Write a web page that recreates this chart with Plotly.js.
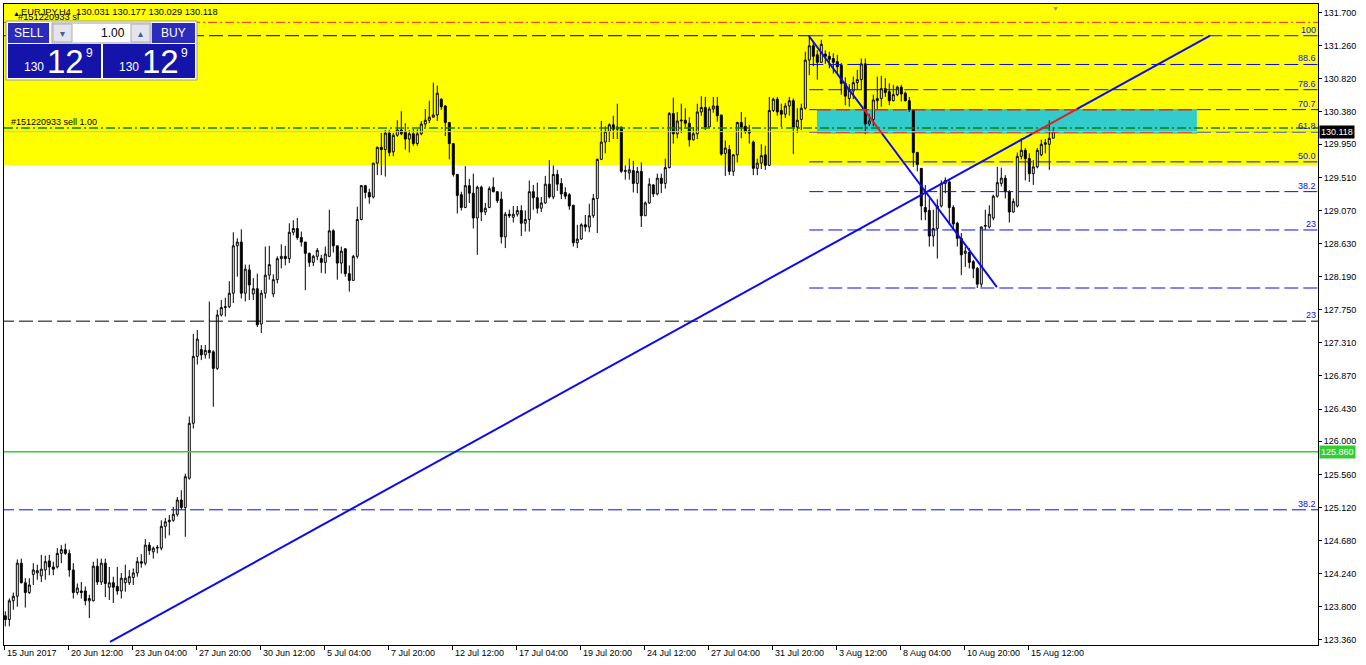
<!DOCTYPE html>
<html><head><meta charset="utf-8">
<script src="https://cdn.plot.ly/plotly-3.0.1.min.js"></script>
<style>html,body{margin:0;padding:0;background:#fff;overflow:hidden}#chart{width:1366px;height:665px}</style>
</head><body><div id="chart"></div>
<script>
// ---------------- DATA ----------------
const symbolTitle = "EURJPY,H4";
const lastBarOHLC = ["130.031", "130.177", "130.029", "130.118"];
const orderLabel = "#151220933 sell 1.00";
const slLabel = "#151220933 sl";

const openP = [123.68,123.63,123.88,123.94,124.38,124.12,123.99,124.23,124.25,124.21,124.29,124.41,124.33,124.33,124.51,124.56,124.51,124.29,123.99,124.01,
124.01,123.88,123.88,124.34,124.13,124.38,124.06,124.12,124.07,124.01,124.12,124.12,124.19,124.25,124.40,124.38,124.62,124.53,124.58,124.58,
124.87,124.93,124.95,125.03,125.22,125.12,125.51,126.24,127.13,127.22,127.15,127.21,127.19,126.97,127.68,127.78,127.79,127.97,128.60,128.65,
127.97,128.28,127.96,128.03,127.56,127.97,128.21,127.96,128.15,128.43,128.46,128.43,128.78,128.83,128.71,128.65,128.50,128.38,128.46,128.43,
128.38,128.46,128.80,128.60,128.37,128.56,128.23,128.14,128.46,128.95,129.40,129.31,129.25,129.70,129.91,129.88,130.10,129.85,130.07,130.14,
130.12,130.02,130.09,129.96,130.09,130.22,130.27,130.31,130.34,130.55,130.46,130.24,129.96,129.55,129.28,129.11,129.40,129.30,128.97,129.38,
129.05,129.11,129.38,129.32,129.22,128.72,129.02,128.98,129.02,129.07,128.90,128.95,129.32,129.24,129.10,129.17,129.42,129.25,129.55,129.43,
129.31,129.28,129.14,128.64,128.69,128.88,128.85,129.00,129.23,129.75,129.98,130.12,130.21,130.15,130.18,129.59,129.57,129.60,129.43,129.59,
129.00,129.17,129.41,129.29,129.50,129.43,129.64,130.36,130.09,130.26,130.27,130.23,130.01,130.09,130.38,130.44,130.18,130.42,130.46,130.34,
129.83,129.88,129.59,129.81,130.24,130.19,130.13,129.98,129.63,129.70,129.81,129.67,130.40,130.55,130.40,130.35,130.46,130.53,130.18,130.28,
130.43,131.07,131.26,131.14,131.04,131.15,131.12,131.09,131.05,131.00,130.76,130.56,130.66,130.77,130.81,131.02,130.22,130.28,130.53,130.56,
130.69,130.65,130.53,130.61,130.71,130.63,130.53,130.41,129.84,129.63,129.11,129.07,128.73,128.83,129.13,129.43,129.45,129.11,128.90,128.70,
128.50,128.51,128.39,128.30,128.09,128.86,128.85,128.97,129.26,129.43,129.50,129.32,129.05,129.13,129.79,129.87,129.76,129.56,129.65,129.81,
129.95,129.95,130.031];
const highP = [123.74,123.91,123.99,124.43,124.44,124.18,124.18,124.38,124.36,124.49,124.48,124.49,124.40,124.58,124.62,124.64,124.56,124.38,124.11,124.13,
124.07,123.96,124.40,124.44,124.44,124.44,124.33,124.20,124.33,124.25,124.36,124.29,124.31,124.46,124.50,124.70,124.66,124.60,124.62,124.95,
124.98,125.02,125.13,125.26,125.35,125.57,126.33,127.43,127.48,127.28,127.28,127.86,127.21,127.75,127.88,127.91,128.13,128.78,128.70,128.82,
128.35,128.35,128.17,128.23,128.01,128.59,128.60,128.22,128.46,128.62,128.60,128.90,128.94,128.97,128.79,128.65,128.51,128.48,128.57,128.48,
128.59,129.08,128.82,128.60,128.59,128.57,128.34,128.48,129.12,129.41,129.41,129.36,129.70,129.92,130.10,130.14,130.14,130.10,130.27,130.39,
130.23,130.14,130.15,130.15,130.26,130.42,130.53,130.77,130.73,130.56,130.47,130.24,129.96,129.55,129.32,129.66,129.49,129.56,129.40,129.40,
129.17,129.39,129.51,129.32,129.32,129.05,129.08,129.13,129.13,129.14,129.07,129.47,129.41,129.44,129.25,129.53,129.74,129.67,129.61,129.50,
129.38,129.30,129.14,128.88,128.90,129.01,129.16,129.29,129.76,130.26,130.19,130.23,130.33,130.49,130.18,129.67,129.76,129.73,129.65,129.71,
129.19,129.50,129.42,129.56,129.56,129.76,130.38,130.57,130.38,130.49,130.43,130.31,130.18,130.49,130.59,130.58,130.45,130.58,130.58,130.34,
130.00,129.94,129.82,130.25,130.38,130.31,130.21,130.00,129.76,129.95,129.93,130.58,130.57,130.58,130.49,130.50,130.58,130.56,130.43,130.49,
131.18,131.394,131.32,131.20,131.34,131.20,131.18,131.16,131.14,131.03,130.84,130.75,130.85,130.94,131.09,131.09,130.35,130.61,130.85,130.86,
130.83,130.76,130.74,130.73,130.74,130.65,130.58,130.42,129.85,129.63,129.41,129.23,129.08,129.22,129.47,129.51,129.47,129.14,128.92,128.77,
128.59,128.57,128.41,128.32,128.86,129.08,129.14,129.28,129.65,129.64,129.54,129.34,129.23,129.84,130.03,129.90,129.83,129.74,129.90,130.01,
130.02,130.27,130.177];
const lowP = [123.54,123.54,123.76,123.80,124.11,123.79,123.97,124.09,124.16,124.13,124.16,124.22,124.22,124.31,124.38,124.49,124.20,123.91,123.96,123.91,
123.82,123.65,123.87,124.09,124.09,123.93,123.89,123.85,123.96,123.91,124.00,124.09,124.09,124.20,124.32,124.35,124.49,124.44,124.51,124.55,
124.71,124.75,124.93,125.00,125.09,124.73,125.49,126.17,127.02,127.08,127.10,127.10,126.46,126.95,127.66,127.66,127.77,127.84,128.19,127.90,
127.86,127.88,127.88,127.52,127.44,127.90,128.15,127.92,128.10,128.30,128.34,128.37,128.74,128.68,128.59,128.01,128.32,128.33,128.41,128.24,
128.23,128.45,128.51,128.15,128.23,128.19,127.99,128.14,128.43,128.94,129.23,129.16,129.23,129.54,129.54,129.52,129.79,129.79,130.05,130.07,
129.88,129.84,129.93,129.93,130.07,130.18,130.23,130.31,130.26,130.41,130.06,129.75,129.52,129.03,129.07,129.10,129.17,128.83,128.48,128.93,
129.01,129.10,129.31,129.17,128.63,128.57,128.97,128.91,128.99,128.73,128.79,128.79,129.08,129.03,129.05,129.16,129.23,129.22,129.33,129.22,
129.22,129.08,128.59,128.57,128.68,128.79,128.78,128.97,128.77,129.74,129.83,129.98,130.02,130.02,129.57,129.48,129.48,129.31,129.30,128.85,
129.00,129.16,129.25,129.27,129.30,129.36,129.63,129.96,130.03,130.10,130.18,129.92,130.00,130.02,130.33,130.14,130.18,130.37,130.25,129.80,
129.53,129.54,129.53,129.71,130.03,130.09,129.96,129.54,129.54,129.62,129.61,129.66,130.38,130.33,130.18,130.30,130.33,129.82,130.10,130.14,
130.41,130.87,130.99,130.81,131.03,131.02,130.96,130.89,130.90,130.61,130.47,130.45,130.55,130.67,130.67,130.09,130.19,130.19,130.41,130.45,
130.58,130.47,130.52,130.59,130.52,130.52,130.38,129.65,129.59,128.94,128.94,128.59,128.59,128.43,129.11,129.30,128.88,128.81,128.59,128.21,
128.32,128.30,128.17,128.039,128.05,128.81,128.83,128.94,129.24,129.39,129.23,128.91,129.04,129.11,129.75,129.47,129.45,129.41,129.63,129.79,
129.83,129.61,130.029];
const closeP = [123.63,123.88,123.94,124.38,124.12,123.99,124.09,124.29,124.28,124.30,124.40,124.33,124.30,124.51,124.56,124.51,124.29,123.99,124.05,123.99,
123.88,123.91,124.34,124.13,124.38,124.11,124.12,124.06,124.01,124.18,124.18,124.20,124.25,124.40,124.38,124.62,124.55,124.58,124.59,124.87,
124.93,124.95,125.03,125.22,125.12,125.53,126.24,127.13,127.36,127.15,127.21,127.18,126.97,127.68,127.78,127.79,127.97,128.60,128.65,127.97,
128.29,128.08,128.03,127.55,127.97,128.21,128.35,128.15,128.43,128.46,128.43,128.78,128.83,128.71,128.65,128.50,128.38,128.46,128.54,128.38,
128.49,128.80,128.60,128.37,128.53,128.23,128.14,128.46,128.95,129.40,129.31,129.25,129.70,129.91,129.88,130.10,129.84,130.07,130.14,130.09,
130.02,130.09,129.96,130.09,130.22,130.27,130.31,130.34,130.63,130.45,130.24,129.96,129.55,129.27,129.11,129.40,129.30,128.97,129.38,129.05,
129.10,129.36,129.32,129.20,128.72,129.02,129.00,129.02,129.07,128.90,128.95,129.32,129.24,129.10,129.17,129.42,129.25,129.55,129.42,129.29,
129.26,129.13,128.64,128.69,128.88,128.85,129.00,129.23,129.75,129.98,130.12,130.21,130.15,130.18,129.59,129.60,129.61,129.43,129.59,129.00,
129.17,129.42,129.29,129.50,129.43,129.64,130.36,130.09,130.26,130.27,130.23,130.01,130.09,130.38,130.44,130.18,130.42,130.46,130.33,129.82,
129.90,129.59,129.81,130.24,130.18,130.12,130.10,129.63,129.70,129.80,129.67,130.40,130.55,130.38,130.35,130.46,130.53,130.18,130.27,130.43,
131.07,131.26,131.12,131.04,131.28,131.12,131.08,131.04,130.98,130.76,130.59,130.67,130.77,130.81,131.02,130.22,130.26,130.54,130.56,130.69,
130.64,130.53,130.61,130.71,130.62,130.53,130.41,129.84,129.68,129.13,129.05,128.73,128.83,129.13,129.43,129.47,129.11,128.89,128.70,128.48,
128.53,128.38,128.30,128.09,128.85,128.87,129.02,129.26,129.44,129.50,129.32,129.05,129.19,129.79,129.87,129.76,129.56,129.65,129.87,129.95,
129.97,130.03,130.118];

const xTickBars = [0,16,32,48,64,80,96,112,128,144,160,176,192,208,224,240,256];
const xTickLabels = ["15 Jun 2017","20 Jun 12:00","23 Jun 04:00","27 Jun 20:00","30 Jun 12:00","5 Jul 04:00","7 Jul 20:00","12 Jul 12:00","17 Jul 04:00","19 Jul 20:00","24 Jul 12:00","27 Jul 04:00","31 Jul 20:00","3 Aug 12:00","8 Aug 04:00","10 Aug 20:00","15 Aug 12:00"];
const yTickVals = [131.700,131.260,130.820,130.380,129.950,129.510,129.070,128.630,128.190,127.750,127.310,126.870,126.430,126.000,125.560,125.120,124.680,124.240,123.800,123.360];

// Fibonacci retracement (Aug swing): 100 = swing high, 0 = swing low
const fibHighPrice = 131.394, fibLowPrice = 128.039, fibStartBar = 201;
const fibLevels = [100, 88.6, 78.6, 70.7, 61.8, 50.0, 38.2, 23, 0];
const fibLabels = ["100", "88.6", "78.6", "70.7", "61.8", "50.0", "38.2", "23", ""];
// Long-term Fibonacci (0 at the high)
const fib2ZeroPrice = 131.394, fib2FullPrice = 114.89;
const fib2Levels = [0, 23, 38.2];
const fib2Labels = ["", "23", "38.2"];

const bidPrice = 130.118, slPrice = 131.572, orderPrice = 130.167, supportPrice = 125.860;
const yellowZone = [129.675, 132.5];
const cyanZone = {bar0: 202.9, bar1: 297.9, low: 130.09, high: 130.42};
const trendUp = [[26.18, 123.332], [301.2, 131.394]];
const trendDown = [[200.9, 131.39], [247.9, 128.052]];

// ---------------- LAYOUT HELPERS ----------------
const W = 1366, H = 665, L = 4, T = 4, R = 48, B = 20;
const PW = W - L - R, PH = H - T - B;
const px = x => (x - L) / PW;
const py = y => (H - B - y) / PH;
const FONT = "Liberation Sans, Arial, sans-serif";
const BLUE = "#0b0bf0";
const xRange = [-0.325, 328.175];

const n = openP.length;
const xs = Array.from({length: n}, (_, i) => i);

const shapes = [];
const annotations = [];

// background zones
shapes.push({type: 'rect', xref: 'paper', x0: 0, x1: 1, yref: 'y', y0: yellowZone[0], y1: yellowZone[1],
  fillcolor: '#ffff00', line: {width: 0}, layer: 'below'});
shapes.push({type: 'rect', xref: 'x', x0: cyanZone.bar0, x1: cyanZone.bar1, yref: 'y', y0: cyanZone.low, y1: cyanZone.high,
  fillcolor: '#33cccc', line: {width: 0}, layer: 'below'});

function inCyan(p) { return p >= cyanZone.low - 0.01 && p <= cyanZone.high + 0.01; }

function hline(p, x0, x1, color, dash, width) {
  shapes.push({type: 'line', xref: 'x', yref: 'y', x0: x0, x1: x1, y0: p, y1: p,
    line: {color: color, width: width || 1, dash: dash}});
}
// horizontal line that turns red inside the cyan box
function fibLine(p, x0, x1, color) {
  const dash = '14px,5px';
  if (inCyan(p) && x1 > cyanZone.bar0 && x0 < cyanZone.bar1) {
    const a = Math.max(x0, cyanZone.bar0), b = Math.min(x1, cyanZone.bar1);
    if (a > x0) hline(p, x0, a, color, dash);
    hline(p, a, b, '#e02020', dash, 1.5);
    if (b < x1) hline(p, b, x1, color, dash);
  } else hline(p, x0, x1, color, dash);
}

// trend line split at the cyan box
function trendLine(seg) {
  const [[x0, y0], [x1, y1]] = seg;
  const f = x => y0 + (y1 - y0) * (x - x0) / (x1 - x0);
  const g = y => x0 + (x1 - x0) * (y - y0) / (y1 - y0);
  let a = Math.max(x0, cyanZone.bar0), b = Math.min(x1, cyanZone.bar1);
  const xa = g(cyanZone.low), xb = g(cyanZone.high);
  a = Math.max(a, Math.min(xa, xb)); b = Math.min(b, Math.max(xa, xb));
  const seg2 = (u, v, c) => shapes.push({type: 'line', xref: 'x', yref: 'y', x0: u, y0: f(u), x1: v, y1: f(v), line: {color: c, width: 2}});
  if (b > a) {
    seg2(x0, a, BLUE); seg2(a, b, '#e02020'); seg2(b, x1, BLUE);
  } else seg2(x0, x1, BLUE);
}

// long-term fib (full width)
fib2Levels.forEach((lv, k) => {
  const p = fib2ZeroPrice - (fib2ZeroPrice - fib2FullPrice) * lv / 100;
  const col = lv === 38.2 ? BLUE : '#000000';
  fibLine(p, xRange[0] - 1, lv === 0 ? fibStartBar : xRange[1] + 1, col);
  if (fib2Labels[k]) annotations.push({xref: 'paper', x: 1, xanchor: 'right', xshift: -1, yref: 'y', y: p, yanchor: 'bottom',
    text: fib2Labels[k], showarrow: false, font: {family: FONT, size: 9, color: BLUE}, borderpad: 0});
});
// Aug fib
fibLevels.forEach((lv, k) => {
  const p = fibLowPrice + (fibHighPrice - fibLowPrice) * lv / 100;
  fibLine(p, fibStartBar, xRange[1] + 1, BLUE);
  if (fibLabels[k]) annotations.push({xref: 'paper', x: 1, xanchor: 'right', xshift: -1, yref: 'y', y: p, yanchor: 'bottom',
    text: fibLabels[k], showarrow: false, font: {family: FONT, size: 9, color: BLUE}, borderpad: 0});
});

// order / stop / bid / support lines
shapes.push({type: 'line', xref: 'paper', x0: 0, x1: 1, yref: 'y', y0: slPrice, y1: slPrice, line: {color: '#ff2020', width: 1, dash: '9px,3px,2px,3px'}});
shapes.push({type: 'line', xref: 'paper', x0: 0, x1: 1, yref: 'y', y0: orderPrice, y1: orderPrice, line: {color: '#008800', width: 1.5, dash: '9px,3px,2px,3px'}});
shapes.push({type: 'line', xref: 'paper', x0: 0, x1: 1, yref: 'y', y0: bidPrice, y1: bidPrice, line: {color: '#c0c0c0', width: 1}});
shapes.push({type: 'line', xref: 'paper', x0: 0, x1: 1, yref: 'y', y0: supportPrice, y1: supportPrice, line: {color: '#32cd32', width: 1.5}});

trendLine(trendUp);
trendLine(trendDown);

// price boxes on the axis
annotations.push({xref: 'paper', x: 1, xanchor: 'left', xshift: 1, yref: 'y', y: bidPrice, yanchor: 'middle',
  text: bidPrice.toFixed(3), showarrow: false, bgcolor: '#000000', font: {family: FONT, size: 9, color: '#ffffff'}, borderpad: 1});
annotations.push({xref: 'paper', x: 1, xanchor: 'left', xshift: 1, yref: 'y', y: supportPrice, yanchor: 'middle',
  text: supportPrice.toFixed(3), showarrow: false, bgcolor: '#32cd32', font: {family: FONT, size: 9, color: '#ffffff'}, borderpad: 1});

// x labels (left anchored like MT4)
xTickBars.forEach((b, k) => annotations.push({xref: 'x', x: b - 0.2, xanchor: 'left', yref: 'paper', y: 0, yanchor: 'top', yshift: -1,
  text: xTickLabels[k], showarrow: false, font: {family: FONT, size: 9, color: '#000'}, borderpad: 1}));

// header texts
annotations.push({xref: 'paper', x: px(11), xanchor: 'left', yref: 'paper', y: py(13), yanchor: 'middle', showarrow: false,
  text: '▲', font: {family: FONT, size: 7, color: '#000'}});
annotations.push({xref: 'paper', x: px(19), xanchor: 'left', yref: 'paper', y: py(12), yanchor: 'middle', showarrow: false,
  text: symbolTitle + '  ' + lastBarOHLC.join(' '), font: {family: FONT, size: 9.3, color: '#000'}});
annotations.push({xref: 'paper', x: px(16), xanchor: 'left', yref: 'paper', y: py(17.5), yanchor: 'middle', showarrow: false,
  text: slLabel, font: {family: FONT, size: 9.3, color: '#000'}});
annotations.push({xref: 'paper', x: px(10), xanchor: 'left', yref: 'y', y: orderPrice, yanchor: 'bottom', showarrow: false,
  text: orderLabel, font: {family: FONT, size: 9, color: '#000'}, borderpad: 0});
annotations.push({xref: 'paper', x: px(1055), xanchor: 'center', yref: 'paper', y: 1, yanchor: 'top', showarrow: false,
  text: '▼', font: {family: FONT, size: 7, color: '#9090a0'}, borderpad: 0});

// one-click trading panel
function prect(x0, y0, x1, y1, fill, lc) {
  shapes.push({type: 'rect', xref: 'paper', yref: 'paper', x0: px(x0), x1: px(x1), y0: py(y1), y1: py(y0),
    fillcolor: fill, line: {width: lc ? 1 : 0, color: lc || fill}, layer: 'above'});
}
function ptext(x, y, t, size, color, anchor) {
  annotations.push({xref: 'paper', yref: 'paper', x: px(x), y: py(y), xanchor: anchor || 'center', yanchor: 'middle',
    text: t, showarrow: false, font: {family: FONT, size: size, color: color}, borderpad: 0});
}
prect(6, 21, 197, 80, '#ffffff', '#9a9a9a');
prect(8, 23, 49, 43, '#2b2bbd');
prect(52, 23, 151, 43, '#ffffff', '#a0a0a0');
prect(53, 24, 72, 42, '#e4e4ec', '#b0b0b0');
prect(131, 24, 150, 42, '#e4e4ec', '#b0b0b0');
prect(152, 23, 195, 43, '#2b2bbd');
prect(8, 44, 101, 78, '#1414aa');
prect(103, 44, 195, 78, '#1414aa');
ptext(29, 33, 'SELL', 12, '#ffffff');
ptext(173, 33, 'BUY', 12, '#ffffff');
ptext(126, 33, '1.00', 12, '#000000', 'right');
ptext(62, 33, '▾', 10, '#4a5a9a');
ptext(140, 33, '▴', 10, '#4a5a9a');
[[8, 101], [103, 195]].forEach(([a, b]) => {
  ptext(a + 26, 67, '130', 12, '#ffffff');
  ptext(a + 57, 61, '12', 33, '#ffffff');
  ptext(a + 81, 53, '9', 12, '#ffffff');
});

const trace = {
  type: 'candlestick', x: xs, open: openP, high: highP, low: lowP, close: closeP,
  increasing: {line: {color: '#000000', width: 1}, fillcolor: '#ffffff'},
  decreasing: {line: {color: '#000000', width: 1}, fillcolor: '#000000'},
  whiskerwidth: 0, hoverinfo: 'skip', showlegend: false
};

const layout = {
  width: W, height: H, margin: {l: L, r: R, t: T, b: B, pad: 0},
  paper_bgcolor: '#ffffff', plot_bgcolor: '#ffffff', showlegend: false,
  xaxis: {type: 'linear', range: xRange, rangeslider: {visible: false}, showgrid: false, zeroline: false,
    tickmode: 'array', tickvals: xTickBars.map(b => b - 0.2), ticktext: xTickBars.map(() => ''), ticks: 'outside', ticklen: 4,
    tickcolor: '#000', showline: true, linecolor: '#000', linewidth: 1, mirror: true, fixedrange: true},
  yaxis: {side: 'right', range: [123.2918, 131.8157], showgrid: false, zeroline: false,
    tickmode: 'array', tickvals: yTickVals, ticktext: yTickVals.map(v => v.toFixed(3)), ticks: 'outside', ticklen: 3,
    tickcolor: '#000', tickfont: {family: FONT, size: 9, color: '#000'}, showline: true, linecolor: '#000', linewidth: 1, mirror: true, fixedrange: true},
  shapes: shapes, annotations: annotations
};

Plotly.newPlot('chart', [trace], layout, {displayModeBar: false, staticPlot: true});
</script></body></html>
